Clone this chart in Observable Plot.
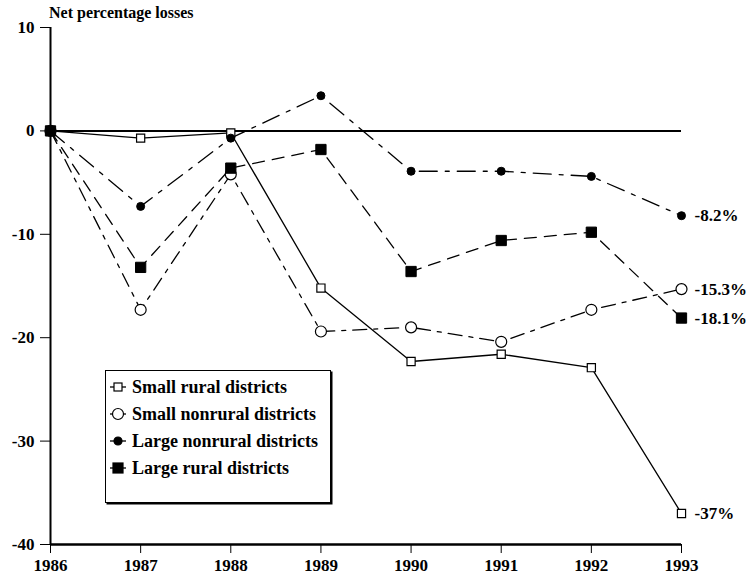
<!DOCTYPE html>
<html>
<head>
<meta charset="utf-8">
<script src="https://cdn.jsdelivr.net/npm/d3@7"></script>
<script src="https://cdn.jsdelivr.net/npm/@observablehq/plot@0.6"></script>
<style>
  html, body { margin: 0; padding: 0; background: #fff; }
  #wrap { position: relative; width: 752px; height: 581px; font-family: "Liberation Serif", "Times New Roman", serif; }
  #title { position: absolute; left: 49px; top: 4px; font-size: 16px; font-weight: bold; color: #000; }
  #legend { position: absolute; left: 105px; top: 370px; width: 224px; height: 131px; border: 1.5px solid #000; box-shadow: 1.5px 1.5px 0 #000; background: #fff; }
  .item { position: absolute; left: 2px; height: 22px; display: flex; align-items: center; font-size: 18px; font-weight: bold; color: #000; white-space: nowrap; }
  .item svg { margin-right: 2px; }
</style>
</head>
<body>
<div id="wrap">
  <div id="chart"></div>
  <div id="title">Net percentage losses</div>
  <div id="legend"></div>
</div>
<script>
const years = [1986, 1987, 1988, 1989, 1990, 1991, 1992, 1993];
const seriesNames = ["Small rural districts", "Small nonrural districts", "Large nonrural districts", "Large rural districts"];
const smallRural    = [0, -0.7, -0.2, -15.2, -22.3, -21.6, -22.9, -37.0];
const smallNonrural = [0, -17.3, -4.2, -19.4, -19.0, -20.4, -17.3, -15.3];
const largeNonrural = [0, -7.3, -0.7, 3.4, -3.9, -3.9, -4.4, -8.2];
const largeRural    = [0, -13.2, -3.6, -1.8, -13.6, -10.6, -9.8, -18.1];
const endLabels = ["-37%", "-15.3%", "-8.2%", "-18.1%"];
const yTicks = [-40, -30, -20, -10, 0, 10];

const values = [smallRural, smallNonrural, largeNonrural, largeRural];
const styles = [
  {dash: null, symbol: "square", r: 4.6, fill: "white", sw: 1.2},
  {dash: "14,7,4,7", symbol: "circle", r: 5.5, fill: "white", sw: 1.2},
  {dash: "18,8,4,8", symbol: "circle", r: 4, fill: "black", sw: 1},
  {dash: "12,8", symbol: "square", r: 5.8, fill: "black", sw: 1}
];

const rows = [];
seriesNames.forEach((name, s) => years.forEach((yr, i) => rows.push({series: name, idx: s, year: yr, value: values[s][i]})));
const ends = seriesNames.map((name, s) => ({series: name, year: years[years.length - 1], value: values[s][values[s].length - 1], label: endLabels[s]}));

const marks = [
  Plot.ruleY([0], {stroke: "black", strokeWidth: 2}),
  Plot.ruleX([1986], {stroke: "black", strokeWidth: 2}),
  Plot.ruleY([-40], {stroke: "black", strokeWidth: 2.5})
];
seriesNames.forEach((name, s) => {
  const st = styles[s];
  const d = rows.filter(r => r.idx === s);
  marks.push(Plot.line(d, {x: "year", y: "value", stroke: "black", strokeWidth: 1.3, strokeDasharray: st.dash}));
});
[1, 0, 2, 3].forEach(s => {
  const st = styles[s];
  const d = rows.filter(r => r.idx === s);
  marks.push(Plot.dot(d, {x: "year", y: "value", symbol: st.symbol, r: st.r, fill: st.fill, stroke: "black", strokeWidth: st.sw}));
});
marks.push(Plot.text(ends, {x: "year", y: "value", text: "label", dx: 13, textAnchor: "start", fontSize: 17, fontWeight: "bold"}));

const chart = Plot.plot({
  width: 752, height: 581,
  marginLeft: 50, marginRight: 71, marginTop: 27, marginBottom: 37,
  x: {domain: [1986, 1993], ticks: years, tickFormat: d => String(d), tickSize: 9, tickPadding: 5, label: null},
  y: {domain: [-40, 10], ticks: yTicks, tickFormat: d => String(d), tickSize: 10, tickPadding: 6, label: null},
  style: {fontFamily: "'Liberation Serif', 'Times New Roman', serif", fontSize: "17px", fontWeight: "bold", color: "#000", background: "#fff"},
  marks
});
document.getElementById("chart").appendChild(chart);

// legend
const legend = document.getElementById("legend");
seriesNames.forEach((name, s) => {
  const st = styles[s];
  const item = document.createElement("div");
  item.className = "item";
  item.style.top = (5 + s * 27) + "px";
  let sym;
  if (st.symbol === "square") {
    const side = st.fill === "white" ? 8 : 10;
    sym = `<rect x="${10 - side/2}" y="${11 - side/2}" width="${side}" height="${side}" fill="${st.fill}" stroke="black" stroke-width="1.2"/>`;
  } else {
    sym = `<circle cx="10" cy="11" r="${st.fill === "white" ? 5.5 : 4}" fill="${st.fill}" stroke="black" stroke-width="1.2"/>`;
  }
  item.innerHTML = `<svg width="22" height="22"><line x1="2" x2="18" y1="11" y2="11" stroke="black" stroke-width="1.3"/>${sym}</svg><span>${name}</span>`;
  legend.appendChild(item);
});
</script>
</body>
</html>
